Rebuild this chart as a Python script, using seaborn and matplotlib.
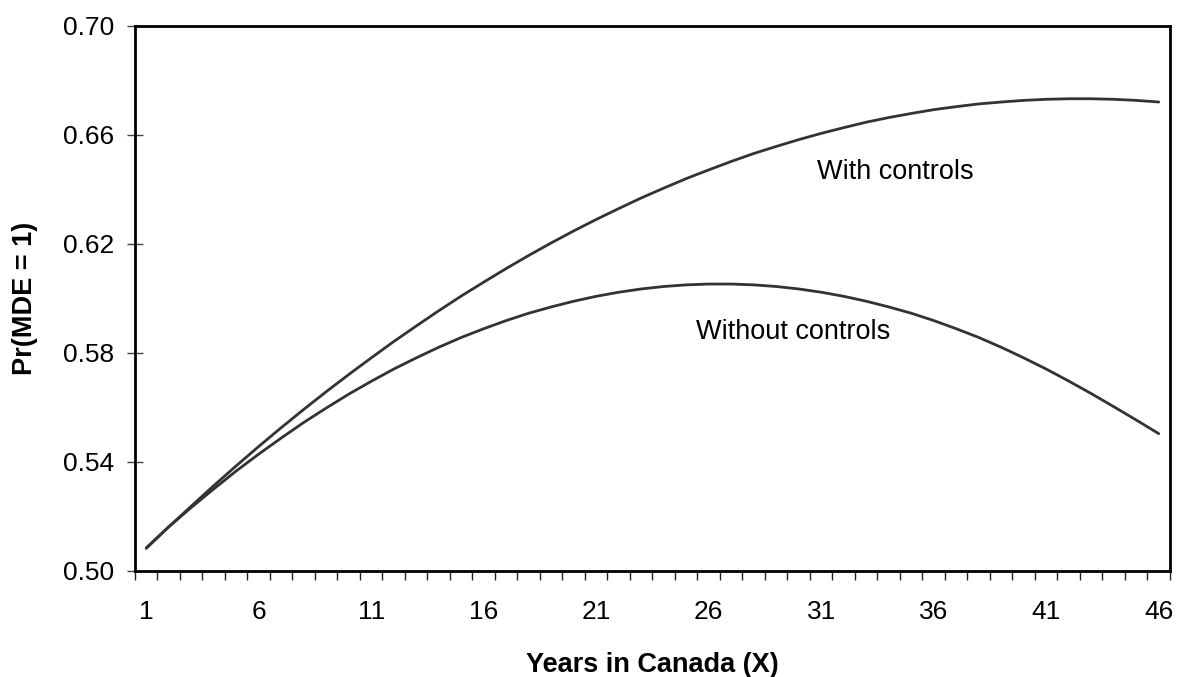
import numpy as np
import pandas as pd
import matplotlib
matplotlib.use("Agg")
import matplotlib.pyplot as plt
import seaborn as sns
from matplotlib.ticker import FixedLocator, NullFormatter

years = list(range(1, 47))
with_controls = [
    0.5083, 0.5162, 0.5238, 0.5313, 0.5386, 0.5457, 0.5526, 0.5593, 0.5658, 0.5721,
    0.5782, 0.5842, 0.5899, 0.5955, 0.6009, 0.6060, 0.6110, 0.6158, 0.6204, 0.6248,
    0.6290, 0.6330, 0.6369, 0.6405, 0.6440, 0.6472, 0.6503, 0.6532, 0.6558, 0.6583,
    0.6606, 0.6627, 0.6647, 0.6664, 0.6679, 0.6693, 0.6704, 0.6714, 0.6721, 0.6727,
    0.6731, 0.6733, 0.6733, 0.6731, 0.6727, 0.6721,
]
without_controls = [
    0.5085, 0.5162, 0.5233, 0.5301, 0.5367, 0.5429, 0.5488, 0.5545, 0.5598, 0.5649,
    0.5696, 0.5741, 0.5782, 0.5821, 0.5857, 0.5889, 0.5919, 0.5946, 0.5969, 0.5990,
    0.6008, 0.6023, 0.6035, 0.6044, 0.6050, 0.6053, 0.6053, 0.6050, 0.6044, 0.6035,
    0.6023, 0.6008, 0.5990, 0.5969, 0.5946, 0.5919, 0.5889, 0.5857, 0.5821, 0.5782,
    0.5741, 0.5697, 0.5651, 0.5603, 0.5554, 0.5504,
]
series_names = ["With controls", "Without controls"]
y_ticks = [0.50, 0.54, 0.58, 0.62, 0.66, 0.70]
x_label_years = [1, 6, 11, 16, 21, 26, 31, 36, 41, 46]

df = pd.DataFrame({
    "Year": years * 2,
    "Pr": with_controls + without_controls,
    "Series": [series_names[0]] * len(years) + [series_names[1]] * len(years),
})

sns.set_theme(style="white")
plt.rcParams["font.family"] = ["Liberation Sans", "DejaVu Sans"]

fig = plt.figure(figsize=(11.78, 6.77), dpi=100)
ax = fig.add_axes([0.1146, 0.1566, 0.8786, 0.8050])

line_color = "#333333"
sns.lineplot(data=df, x="Year", y="Pr", hue="Series",
             palette=[line_color, line_color], linewidth=2.0,
             legend=False, ax=ax)

ax.set_xlim(0.5, 46.5)
ax.set_ylim(0.50, 0.70)

# x axis: category-boundary ticks (major), labels on every 5th category (minor)
ax.xaxis.set_major_locator(FixedLocator(np.arange(0.5, 47.0, 1.0)))
ax.xaxis.set_major_formatter(NullFormatter())
ax.xaxis.set_minor_locator(FixedLocator(x_label_years))
ax.set_xticklabels([str(v) for v in x_label_years], minor=True)
ax.tick_params(axis="x", which="major", direction="out", length=6.5,
               width=1.0, color="#222222", bottom=True)
ax.tick_params(axis="x", which="minor", length=0, pad=21, labelsize=19,
               labelcolor="black", bottom=True)

ax.set_yticks(y_ticks)
ax.set_yticklabels([f"{v:.2f}" for v in y_ticks])
ax.tick_params(axis="y", which="major", direction="inout", length=12,
               width=1.0, color="#444444", left=True, pad=9, labelsize=19,
               labelcolor="black")

for side in ["left", "right", "top", "bottom"]:
    ax.spines[side].set_visible(True)
    ax.spines[side].set_color("black")
    ax.spines[side].set_linewidth(2.0)

ax.set_xlabel("Years in Canada (X)", fontsize=19.5, fontweight="bold",
              labelpad=20, color="black")
ax.set_ylabel("Pr(MDE = 1)", fontsize=19.5, fontweight="bold",
              labelpad=18, color="black")

ax.text(34.3, 0.6464, "With controls", fontsize=19.5, ha="center",
        va="center", color="black")
ax.text(29.74, 0.5877, "Without controls", fontsize=19.5, ha="center",
        va="center", color="black")

ax.grid(False)
fig.savefig("out.png", dpi=100)
